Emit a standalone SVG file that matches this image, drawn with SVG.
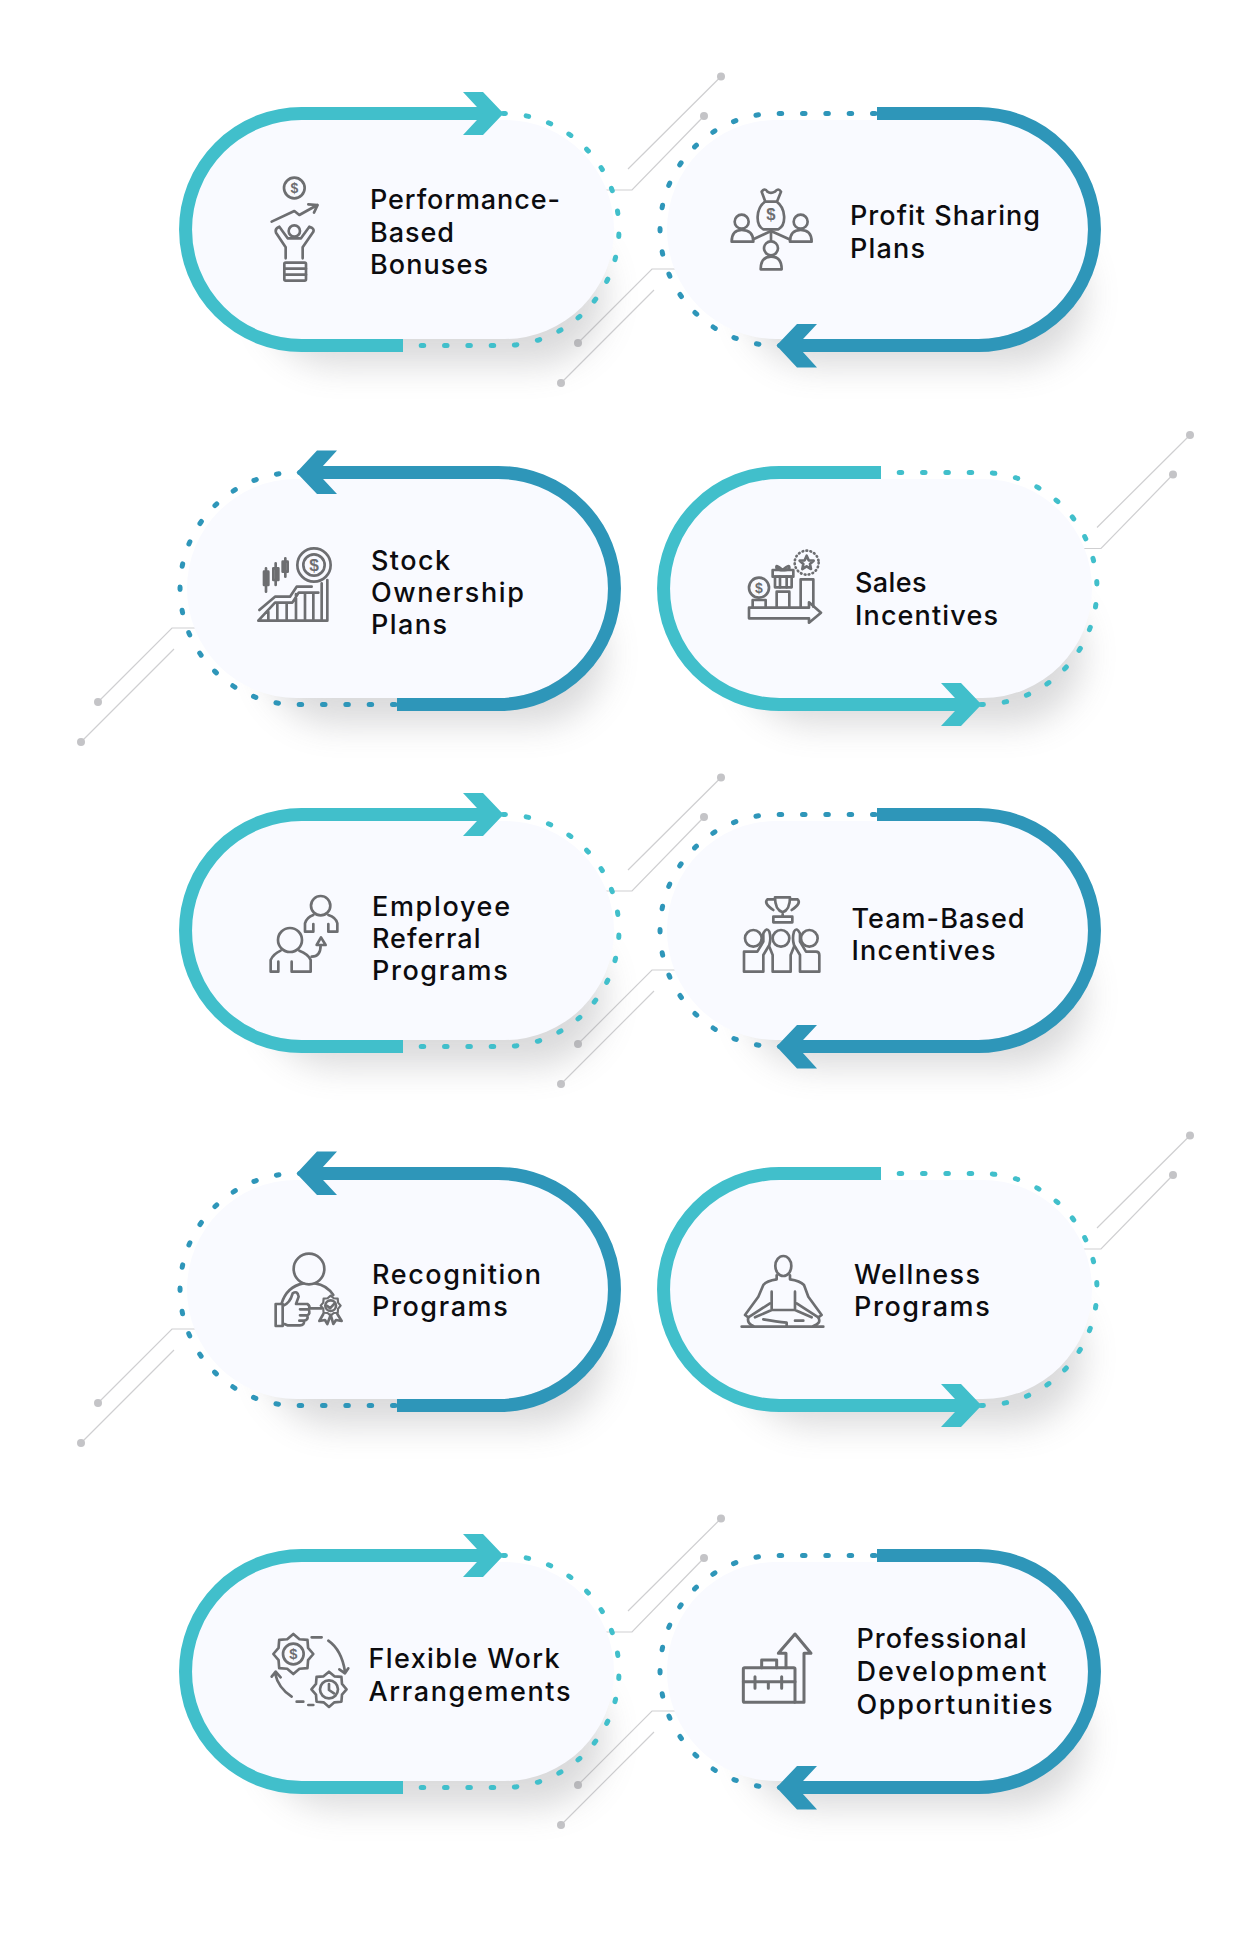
<svg xmlns="http://www.w3.org/2000/svg" xmlns:xlink="http://www.w3.org/1999/xlink" width="1248" height="1937" viewBox="0 0 1248 1937">
<style>
.t{font-family:"Inter","Noto Sans","Liberation Sans",sans-serif;font-size:27px;font-weight:500;fill:#0c0c0f}
.i{fill:none;stroke:#6d6e71;stroke-width:8;stroke-linejoin:round;stroke-linecap:round}
.d{font-family:"Liberation Sans",sans-serif;font-weight:700;fill:#6d6e71;stroke:none;text-anchor:middle}
.l{fill:none;stroke:#cfcfd1;stroke-width:1.2}
.k{fill:#c4c4c7}
.card{fill:#f9faff}
.sh{fill:#77777c;opacity:.27}
.ta{fill:none;stroke:#41bfcb;stroke-width:13}
.tb{fill:none;stroke:#2e96b9;stroke-width:13}
.da{fill:none;stroke:#41bfcb;stroke-width:5;stroke-linecap:round;stroke-dasharray:2.5 20.83}
.db{fill:none;stroke:#2e96b9;stroke-width:5;stroke-linecap:round;stroke-dasharray:2.5 20.83}
</style>
<defs>
<filter id="blur" x="-30%" y="-50%" width="160%" height="200%"><feGaussianBlur stdDeviation="17"/></filter>
<rect id="shA" class="sh" filter="url(#blur)" x="265" y="225" width="340" height="140" rx="70"/>
<rect id="shB" class="sh" filter="url(#blur)" x="745" y="225" width="340" height="140" rx="70"/>
<g id="pillA">
<rect class="card" x="192" y="120" width="422" height="219" rx="109.5"/>
<path class="da" d="M503,113.5A116,116 0 0 1 503,345.5H403"/>
<path class="ta" d="M403,345.5H301.5A116,116 0 0 1 301.5,113.5H485"/>
<polygon fill="#41bfcb" points="463,92 483,92 503.500,113.500 483,135 463,135 483,113.500"/>
</g>
<g id="pillB">
<rect class="card" x="667" y="120" width="421" height="219" rx="109.5"/>
<path class="db" d="M875,113.500H776A116,116 0 0 0 776,345.500H800"/>
<path class="tb" d="M877,113.500H978.500A116,116 0 0 1 978.500,345.500H797"/>
<polygon fill="#2e96b9" points="817,324 797,324 776.500,345.500 797,367.500 817,367.500 797,345.500"/>
</g>
<g id="upLines">
<path class="l" d="M600,190H632L704,116M628,169L721,76.500"/>
<circle class="k" cx="704" cy="116" r="4"/><circle class="k" cx="721" cy="76.500" r="4"/>
</g>
<g id="downLines">
<path class="l" d="M680,269H652L578,343M654,290L561,383"/>
<circle class="k" cx="578" cy="343" r="4"/><circle class="k" cx="561" cy="383" r="4"/>
</g>
<path id="gear" d="M60,0L44.300,18.400L42.400,42.400L18.400,44.300L0,60L-18.400,44.300L-42.400,42.400L-44.300,18.400L-60,0L-44.300,-18.400L-42.400,-42.400L-18.400,-44.300L0,-60L18.400,-44.300L42.400,-42.400L44.300,-18.400Z"/>
</defs>

<g id="connectors">
<use href="#upLines"/><use href="#downLines"/>
<use href="#upLines" transform="translate(469 358.500)"/><use href="#downLines" transform="translate(-480 359)"/>
<use href="#upLines" transform="translate(0 701)"/><use href="#downLines" transform="translate(0 701)"/>
<use href="#upLines" transform="translate(469 1059)"/><use href="#downLines" transform="translate(-480 1060)"/>
<use href="#upLines" transform="translate(0 1442)"/><use href="#downLines" transform="translate(0 1442)"/>
</g>

<g id="node-performance-based-bonuses">
<use href="#shA"/><use href="#pillA"/>
<g class="i" transform="translate(240 160) scale(.3333)">
<circle cx="163" cy="84" r="31"/><text class="d" x="163" y="99" font-size="42">$</text>
<path d="M95,185L163,153L178,165L232,135M205,133L233,135L222,158"/>
<circle cx="163" cy="213" r="17"/>
<path d="M137,295V262L108,218Q104,205 118,200L143,235H183L208,200Q224,205 220,215L188,262V295"/>
<rect x="133" y="308" width="65" height="54" rx="4"/><path d="M133,326H198M133,344H198"/>
</g>
<text class="t" x="370" y="209" textLength="190">Performance-</text>
<text class="t" x="370" y="241.500" textLength="84">Based</text>
<text class="t" x="370" y="274" textLength="118">Bonuses</text>
</g>

<g id="node-profit-sharing-plans">
<use href="#shB"/><use href="#pillB"/>
<g class="i" transform="translate(710 170) scale(.3333)">
<path d="M165,95C138,115 135,165 160,178H205C230,165 228,115 200,95ZM165,92L155,65Q165,52 172,65Q182,72 195,65Q205,52 213,65L202,92"/>
<text class="d" x="183" y="150" font-size="50">$</text>
<circle cx="95" cy="155" r="21"/><path d="M65,215Q65,180 95,180Q130,180 130,215Z"/>
<circle cx="272" cy="155" r="21"/><path d="M240,215Q240,180 272,180Q305,180 305,215Z"/>
<circle cx="183" cy="235" r="21"/><path d="M152,298Q152,260 183,260Q215,260 215,298Z"/>
<path d="M130,208L183,183L238,208M183,183V212"/>
</g>
<text class="t" x="850" y="225" textLength="190">Profit Sharing</text>
<text class="t" x="850" y="258" textLength="75">Plans</text>
</g>

<g id="node-stock-ownership-plans">
<use href="#shB" transform="translate(-480 359)"/><use href="#pillB" transform="translate(-480 818) scale(1 -1)"/>
<g class="i" transform="translate(240 530) scale(.3333)">
<circle cx="222" cy="105" r="50"/><circle cx="222" cy="105" r="32"/><text class="d" x="222" y="124" font-size="52">$</text>
<path d="M78,115V185M107,100V165M136,85V140"/>
<rect x="72" y="125" width="13" height="40"/><rect x="100" y="115" width="15" height="35"/><rect x="128" y="95" width="15" height="30"/>
<path d="M58,240L105,200H150L170,170H215"/>
<path d="M55,272H262V150M55,272L105,218H157L176,188H235M85,245V272M112,220V272M140,220V272M168,192V272M195,190V272M220,190V272M245,160V272"/>
</g>
<text class="t" x="371" y="570" textLength="79">Stock</text>
<text class="t" x="371" y="602" textLength="153">Ownership</text>
<text class="t" x="371" y="634" textLength="76">Plans</text>
</g>

<g id="node-sales-incentives">
<use href="#shA" transform="translate(478 359)"/><use href="#pillA" transform="translate(478 818) scale(1 -1)"/>
<g class="i" transform="translate(730 540) scale(.3333)">
<circle cx="87" cy="143" r="30"/><text class="d" x="87" y="158" font-size="42">$</text>
<rect x="135" y="110" width="50" height="32"/><rect x="128" y="90" width="62" height="20"/>
<path d="M150,110V142M170,110V142M158,90Q135,70 140,85Q145,92 158,90Q180,70 178,85Q172,92 158,90"/>
<circle cx="230" cy="68" r="36" stroke-dasharray="2 10"/>
<polygon points="230,47 236,61 251,62 240,72 243,87 230,79 217,87 220,72 209,62 224,61"/>
<path d="M68,200V180H107V200M140,200V155H178V200M212,200V118H250V200"/>
<path d="M57,203H237V187L273,218L237,248V235H57Z"/>
</g>
<text class="t" x="855" y="592" textLength="71.500">Sales</text>
<text class="t" x="855" y="625" textLength="143">Incentives</text>
</g>

<g id="node-employee-referral-programs">
<use href="#shA" transform="translate(0 701)"/><use href="#pillA" transform="translate(0 701)"/>
<g class="i" transform="translate(250 880) scale(.3333)">
<circle cx="212" cy="77" r="29"/>
<path d="M165,155V130Q170,112 190,105M235,105Q258,112 262,130V155H235V132M165,155H190V132"/>
<circle cx="120" cy="180" r="36"/>
<path d="M62,275V240Q70,222 92,212M148,212Q175,222 182,240V275H125V245M62,275H85V245"/>
<path d="M185,230Q212,230 212,195M200,195L213,172L227,195Z"/>
</g>
<text class="t" x="372" y="916" textLength="138">Employee</text>
<text class="t" x="372" y="948" textLength="108.500">Referral</text>
<text class="t" x="372" y="980" textLength="135.700">Programs</text>
</g>

<g id="node-team-based-incentives">
<use href="#shB" transform="translate(0 701)"/><use href="#pillB" transform="translate(0 701)"/>
<g class="i" transform="translate(730 880) scale(.3333)">
<path d="M135,52H180Q180,90 158,97Q135,90 135,52ZM135,58H112Q100,70 130,90M180,58H203Q215,70 185,90M158,97V110M130,127V110H187V127Z"/>
<circle cx="70" cy="175" r="25"/><circle cx="153" cy="175" r="25"/><circle cx="238" cy="175" r="25"/>
<path d="M100,275H42V215H82L100,185V160Q110,140 118,155Q124,175 118,195L100,225V275"/>
<path d="M128,275V225L118,200M128,275H182V225L192,200"/>
<path d="M210,275H268V225Q268,215 258,215H228L210,185V160Q200,140 192,155Q186,175 192,195L210,225V275"/>
</g>
<text class="t" x="851.500" y="928" textLength="173">Team-Based</text>
<text class="t" x="851.500" y="960" textLength="144">Incentives</text>
</g>

<g id="node-recognition-programs">
<use href="#shB" transform="translate(-480 1060)"/><use href="#pillB" transform="translate(-480 1519) scale(1 -1)"/>
<g class="i" transform="translate(260 1240) scale(.3333)">
<circle cx="147" cy="87" r="46"/>
<path d="M65,190Q80,140 130,130M165,130Q200,135 220,165"/>
<path d="M47,192H68V258H47ZM68,198Q90,190 98,160Q112,150 116,170L108,192H142Q152,198 146,208Q152,222 142,226Q146,240 132,242Q134,256 120,256H82L68,250M120,208H146M120,226H142M118,242H132M150,205H185"/>
<use href="#gear" transform="translate(212 197) scale(.5)" stroke-width="13"/>
<circle cx="212" cy="197" r="16"/>
<path d="M202,198L210,205L224,190M190,222L178,243L195,240L202,252L212,225L220,252L228,240L245,243L232,222"/>
</g>
<text class="t" x="372" y="1284" textLength="169">Recognition</text>
<text class="t" x="372" y="1316" textLength="135.700">Programs</text>
</g>

<g id="node-wellness-programs">
<use href="#shA" transform="translate(478 1060)"/><use href="#pillA" transform="translate(478 1519) scale(1 -1)"/>
<g class="i" transform="translate(730 1240) scale(.3333)">
<ellipse cx="160" cy="78" rx="24" ry="30"/>
<path d="M140,106V118Q110,122 100,135L85,170L45,225L55,232L120,190M180,106V118Q210,122 222,135L235,170L275,225L265,232L200,190"/>
<path d="M125,155V210H195V155M75,232L125,210M195,210L245,232M55,232Q50,250 70,258M265,232Q275,250 250,258M100,238Q140,245 170,248V260M195,242H220"/>
<path d="M35,260H280"/>
</g>
<text class="t" x="854" y="1284" textLength="126">Wellness</text>
<text class="t" x="854" y="1316" textLength="135.700">Programs</text>
</g>

<g id="node-flexible-work-arrangements">
<use href="#shA" transform="translate(0 1442)"/><use href="#pillA" transform="translate(0 1442)"/>
<g class="i" transform="translate(260 1620) scale(.3333)">
<use href="#gear" transform="translate(100 102)"/>
<circle cx="100" cy="102" r="31"/><text class="d" x="100" y="118" font-size="44">$</text>
<use href="#gear" transform="translate(207 208) scale(.88)" stroke-width="9"/>
<circle cx="207" cy="208" r="27"/>
<path d="M207,192V210L222,220"/>
<path d="M155,52H185M205,62Q245,90 255,155M238,148L255,160L265,145M45,160Q55,205 95,230M35,170L47,155L62,172M110,245H130M145,255H160"/>
</g>
<text class="t" x="368.500" y="1668" textLength="191">Flexible Work</text>
<text class="t" x="368.500" y="1701" textLength="202">Arrangements</text>
</g>

<g id="node-professional-development-opportunities">
<use href="#shB" transform="translate(0 1442)"/><use href="#pillB" transform="translate(0 1442)"/>
<g class="i" transform="translate(730 1620) scale(.3333)">
<rect x="40" y="143" width="155" height="104" rx="4" stroke-width="9"/>
<path d="M95,143V120H140V143M40,185H195M75,170V205M115,190V205M155,170V205" stroke-width="9"/>
<path d="M168,143V100H145L195,42L243,100H222V247H195" stroke-width="9"/>
</g>
<text class="t" x="856.500" y="1648" textLength="170">Professional</text>
<text class="t" x="856.500" y="1681" textLength="190">Development</text>
<text class="t" x="856.500" y="1714" textLength="196">Opportunities</text>
</g>
</svg>
